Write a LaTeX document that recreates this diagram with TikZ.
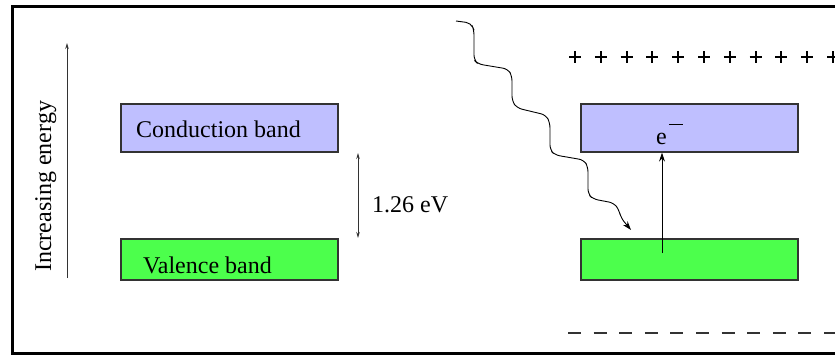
\documentclass[tikz,border=0pt]{standalone}
\usepackage{fontspec}
\setmainfont{Liberation Serif}
\usetikzlibrary{arrows.meta}
\definecolor{cbfill}{HTML}{BFBFFF}
\definecolor{vbfill}{HTML}{4CFF4C}
\definecolor{edge}{HTML}{333333}
\begin{document}
\begin{tikzpicture}[x=1pt,y=-1pt,
  band/.style={draw=edge,line width=1.3pt,minimum width=217pt,inner sep=0pt},
  cband/.style={band,fill=cbfill,minimum height=48pt},
  vband/.style={band,fill=vbfill,minimum height=41pt},
  lbl/.style={font=\fontsize{24}{28}\selectfont,inner sep=0pt},
  thin/.style={draw=edge,line width=0.9pt},
  tip/.style={-{Stealth[length=9pt,width=6pt]}},
  smalltip/.style={-{Stealth[length=6pt,width=3.5pt]}}]
\useasboundingbox (0,0) rectangle (835,356);
% frame
\draw[line width=3pt,black] (836,6.5) -- (12,6.5) -- (12,353.5) -- (836,353.5);
% energy axis
\coordinate (eb) at (67,278);
\coordinate (et) at (67,43);
\draw[thin,smalltip] (eb) -- (et);
\node[lbl,rotate=90,anchor=base west] (elabel) at (51,272) {Increasing energy};
% left bands
\node[cband] (cb1) at (229.5,128) {};
\node[vband] (vb1) at (229.5,259.5) {};
\node[lbl,anchor=base west] (cbt) at (136,137) {Conduction band};
\node[lbl,anchor=base west] (vbt) at (143,273) {Valence band};
% gap
\coordinate (ga) at (358,153);
\coordinate (gb) at (358,238);
\draw[thin,{Stealth[length=6pt,width=3.5pt]}-{Stealth[length=6pt,width=3.5pt]}] (ga) -- (gb);
\node[lbl,anchor=base west] (gap) at (372,212) {1.26 eV};
% right bands
\node[cband] (cb2) at (689.5,128) {};
\node[vband] (vb2) at (689.5,259.5) {};
\node[lbl,anchor=base west] (el) at (656,144) {e\kern2pt\raisebox{19pt}{\rule{14pt}{1.3pt}}};
\coordinate (vs) at (662,253);
\draw[line width=1pt,black,tip] (vs) -- (cb2.south -| vs);
% plus signs
\foreach \i in {0,...,10} {
  \draw[line width=2pt,black] ({575+25.8*\i-6},57) -- ({575+25.8*\i+6},57)
        ({575+25.8*\i},51) -- ({575+25.8*\i},63);
}
% dashed line
\draw[line width=1.6pt,edge,dash pattern=on 13pt off 12.6pt] (568,333) -- (836,333);
% photon
\coordinate (ps) at (456,21);
\coordinate (pe) at (631,230);
\draw[line width=0.9pt,black,tip,rounded corners=5pt]
  (ps) -- (471,23) -- (474,30) -- (474,60) -- (478,64) -- (508,69) -- (512,76)
  -- (512,101) -- (517,108) -- (546,115) -- (550,123) -- (550,150) -- (555,155)
  -- (584,160) -- (588,167) -- (588,194) -- (593,199) -- (614,203) -- (619,210)
  -- (621,218) -- (pe);
\end{tikzpicture}
\end{document}
